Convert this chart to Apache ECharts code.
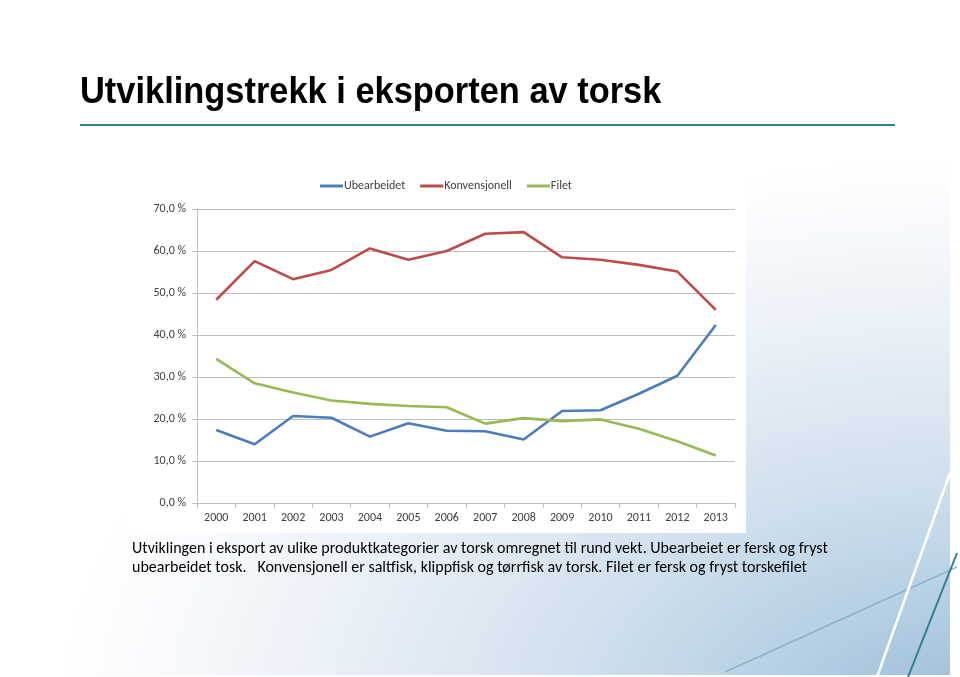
<!DOCTYPE html>
<html>
<head>
<meta charset="utf-8">
<script src="https://cdn.jsdelivr.net/npm/echarts@6/dist/echarts.min.js"></script>
<style>
html,body{margin:0;padding:0;background:#fff;}
#wrap{position:relative;width:960px;height:677px;background:#fff;}
#bg{position:absolute;left:0;top:0;width:950px;height:675px;
  background: radial-gradient(ellipse 900px 560px at 960px 720px, #9bbcd8 0%, #b4cee3 20%, #d2e1ee 45%, #e9f0f7 70%, #f7f9fc 88%, #ffffff 100%);}
#c{position:absolute;left:0;top:0;width:960px;height:677px;}
</style>
</head>
<body>
<div id="wrap"><div id="bg"></div><div id="c"></div></div>
<script>
const years = ['2000','2001','2002','2003','2004','2005','2006','2007','2008','2009','2010','2011','2012','2013'];
const ubearbeidet = [17.4, 14.0, 20.7, 20.3, 15.8, 19.0, 17.2, 17.1, 15.1, 21.9, 22.1, 26.0, 30.3, 42.4];
const konvensjonell = [48.4, 57.6, 53.3, 55.5, 60.6, 57.9, 60.0, 64.1, 64.5, 58.5, 57.9, 56.7, 55.1, 46.0];
const filet = [34.3, 28.5, 26.3, 24.4, 23.6, 23.1, 22.8, 18.9, 20.2, 19.5, 19.9, 17.7, 14.7, 11.3];
const seriesNames = ['Ubearbeidet', 'Konvensjonell', 'Filet'];
const yTicks = {min: 0, max: 70, interval: 10};

const titleText = 'Utviklingstrekk i eksporten av torsk';
const caption1 = 'Utviklingen i eksport av ulike produktkategorier av torsk omregnet til rund vekt. Ubearbeiet er fersk og fryst';
const caption2 = 'ubearbeidet tosk.   Konvensjonell er saltfisk, klippfisk og tørrfisk av torsk. Filet er fersk og fryst torskefilet';

const chartFont = 'Carlito, Lato, "Noto Sans", sans-serif';
const chart = echarts.init(document.getElementById('c'), null, {renderer: 'canvas'});

function lineSeries(name, data, color) {
  return {
    name: name, type: 'line', data: data, symbol: 'none', showSymbol: false,
    lineStyle: {color: color, width: 2.6}, itemStyle: {color: color}, z: 3
  };
}

chart.setOption({
  animation: false,
  backgroundColor: 'transparent',
  graphic: [
    {type: 'line', z: -19, shape: {x1: 725, y1: 672, x2: 957, y2: 567}, style: {stroke: '#86aec4', lineWidth: 1.5, opacity: 0.85}},
    {type: 'line', z: -19, shape: {x1: 950, y1: 473, x2: 877, y2: 677}, style: {stroke: '#ffffff', lineWidth: 2.5}},
    {type: 'line', z: -19, shape: {x1: 957, y1: 553, x2: 908, y2: 677}, style: {stroke: '#2f7f8f', lineWidth: 2}},
    {type: 'rect', z: -18, shape: {x: 125, y: 160, width: 621, height: 373}, style: {fill: '#ffffff'}},
    {type: 'text', z: 5, x: 80, y: 93, scaleX: 0.93,
     style: {text: titleText, font: 'bold 37px "Liberation Sans", Arial, sans-serif', fill: '#000000', textVerticalAlign: 'middle'}},
    {type: 'line', z: 5, shape: {x1: 80, y1: 125, x2: 895, y2: 125}, style: {stroke: '#2f7f93', lineWidth: 2}},
    {type: 'text', z: 5, x: 132, y: 549,
     style: {text: caption1, font: '16px ' + chartFont, fill: '#000000', textVerticalAlign: 'middle'}},
    {type: 'text', z: 5, x: 132, y: 568,
     style: {text: caption2, font: '16px ' + chartFont, fill: '#000000', textVerticalAlign: 'middle'}}
  ],
  legend: {
    data: seriesNames, left: 315, top: 175, icon: 'rect', itemWidth: 23, itemHeight: 3, itemGap: 15,
    textStyle: {fontFamily: chartFont, fontSize: 12, color: '#404040', padding: [0, 0, 0, -4]}
  },
  grid: {left: 197, right: 225, top: 209, bottom: 174, containLabel: false},
  xAxis: {
    type: 'category', data: years, boundaryGap: true,
    axisLine: {lineStyle: {color: '#bfbfbf', width: 1}},
    axisTick: {show: true, length: 5, interval: 0, lineStyle: {color: '#bfbfbf'}},
    axisLabel: {fontFamily: chartFont, fontSize: 12, color: '#404040', margin: 9, interval: 0},
    splitLine: {show: false}
  },
  yAxis: {
    type: 'value', min: yTicks.min, max: yTicks.max, interval: yTicks.interval,
    axisLine: {show: true, lineStyle: {color: '#bfbfbf', width: 1}},
    axisTick: {show: true, length: 5, lineStyle: {color: '#bfbfbf'}},
    axisLabel: {fontFamily: chartFont, fontSize: 12, color: '#404040', margin: 11,
      formatter: v => v.toFixed(1).replace('.', ',') + ' %'},
    splitLine: {show: true, lineStyle: {color: '#bfbfbf', width: 1}}
  },
  series: [
    lineSeries(seriesNames[0], ubearbeidet, '#4a7ebb'),
    lineSeries(seriesNames[1], konvensjonell, '#be4b48'),
    lineSeries(seriesNames[2], filet, '#98b954')
  ]
});
</script>
</body>
</html>
